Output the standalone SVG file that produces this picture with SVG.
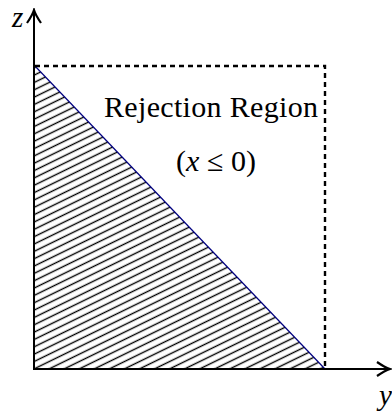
<svg xmlns="http://www.w3.org/2000/svg" width="392" height="414" viewBox="0 0 392 414">
<style>
.axis{stroke:#000;stroke-width:2;fill:none}
.dash{stroke:#000;stroke-width:2.4;fill:none;stroke-dasharray:5 4}
.lbl{font-family:"Liberation Serif","Times New Roman",serif;fill:#000}
.it{font-style:italic}
</style>
<defs>
<pattern id="hatch" patternUnits="userSpaceOnUse" width="20" height="6.6" patternTransform="rotate(-26)">
<line x1="-1" y1="3.3" x2="21" y2="3.3" stroke="#000" stroke-width="1.4"/>
</pattern>
<marker id="arr" viewBox="-15 -9 17 18" refX="0" refY="0" markerWidth="17" markerHeight="18" markerUnits="userSpaceOnUse" orient="auto">
<path d="M-13,-7 Q-5,-1.5 0,0 Q-5,1.5 -13,7" fill="none" stroke="#000" stroke-width="2.2"/>
</marker>
</defs>
<g id="region">
<polygon points="34,65 325,369 34,369" fill="url(#hatch)"/>
<line x1="34" y1="65" x2="325" y2="369" stroke="#000080" stroke-width="1.2"/>
<polyline class="dash" points="35,66 325,66 325,369"/>
</g>
<g id="connectors">
<line class="axis" x1="34" y1="370" x2="34" y2="10" marker-end="url(#arr)"/>
<line class="axis" x1="33" y1="369" x2="390" y2="369" marker-end="url(#arr)"/>
</g>
<g id="labels">
<text class="lbl" x="211" y="117" font-size="30" text-anchor="middle" textLength="214">Rejection Region</text>
<text class="lbl" x="216" y="171" font-size="30" text-anchor="middle">(<tspan class="it">x</tspan> ≤ 0)</text>
<text class="lbl it" x="12" y="27" font-size="29">z</text>
<text class="lbl it" x="379" y="405" font-size="29">y</text>
</g>
</svg>
